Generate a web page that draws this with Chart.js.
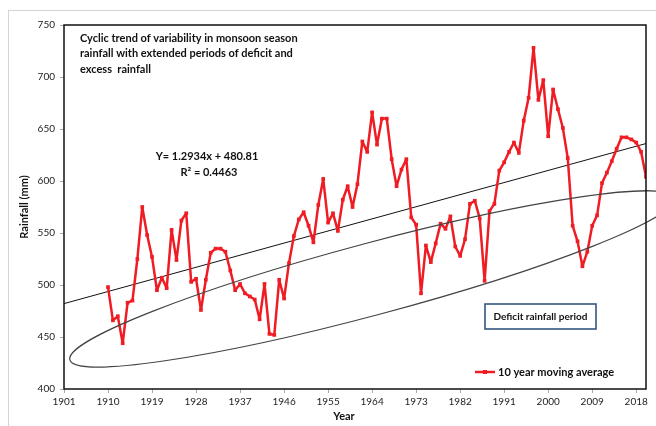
<!DOCTYPE html>
<html>
<head>
<meta charset="utf-8">
<script src="https://cdn.jsdelivr.net/npm/chart.js@4.4.1/dist/chart.umd.min.js"></script>
<style>
  html, body { margin: 0; padding: 0; background: #fff; }
  #wrap { width: 656px; height: 426px; }
</style>
</head>
<body>
<div id="wrap"><canvas id="chart" width="656" height="426"></canvas></div>
<script>
// Ten-year moving average of monsoon rainfall (mm), one value per year from 1910
const firstYear = 1910;
const rainfall = [
    498, 466, 470, 444, 483, 485, 525, 575, 548, 527,   // 1910-1919
    495, 507, 497, 553, 524, 562, 569, 503, 506, 476,   // 1920-1929
    505, 531, 535, 535, 532, 514, 495, 501, 492, 489,   // 1930-1939
    486, 467, 501, 453, 452, 505, 487, 521, 547, 563,   // 1940-1949
    570, 557, 541, 577, 602, 560, 569, 552, 582, 595,   // 1950-1959
    575, 597, 638, 628, 666, 635, 660, 660, 621, 595,   // 1960-1969
    611, 621, 565, 558, 492, 538, 522, 540, 559, 554,   // 1970-1979
    566, 537, 528, 544, 578, 581, 564, 504, 571, 578,   // 1980-1989
    610, 618, 628, 637, 627, 658, 680, 728, 678, 697,   // 1990-1999
    643, 688, 669, 651, 622, 557, 542, 518, 532, 557,   // 2000-2009
    567, 598, 608, 619, 631, 642, 642, 640, 637, 628,   // 2010-2019
    604                                                 // 2020
];

// Axis ranges and tick labels
const xMin = 1901;
const xMax = 2020;
const xTickYears = [1901, 1910, 1919, 1928, 1937, 1946, 1955, 1964, 1973, 1982, 1991, 2000, 2009, 2018];
const yMin = 400;
const yMax = 750;
const yStep = 50;

// Linear trend printed on the chart (x = years since 1900)
const trendSlope = 1.2934;
const trendIntercept = 480.81;
const trendText = ['Y= 1.2934x + 480.81', 'R² = 0.4463'];

// Ellipse marking the deficit period, in data units (year, mm)
const ellipseEnds = [[1902.2, 428], [2025.8, 583.6]];
const ellipseHalfWidth = 34.6;

const noteLines = [
    'Cyclic trend of variability in monsoon season',
    'rainfall with extended periods of deficit and',
    'excess  rainfall'
];
const boxLabel = 'Deficit rainfall period';
const seriesLabel = '10 year moving average';

const RED = '#f01c24';
const BOLD = 'bold 11px Lato, "Liberation Sans", sans-serif';

const movingAvg = rainfall.map((v, i) => ({ x: firstYear + i, y: v }));
const trendPoints = [xMin, xMax].map(yr => ({ x: yr, y: trendSlope * (yr - 1900) + trendIntercept }));

// Frame, ellipse, notes and legend
const decorations = {
    id: 'decorations',
    beforeDraw(chart) {
        const ctx = chart.ctx;
        ctx.save();
        ctx.strokeStyle = '#d4d4d4';
        ctx.lineWidth = 1;
        ctx.strokeRect(8.5, 10.5, 700, 500);
        ctx.restore();
    },
    afterDatasetsDraw(chart) {
        const ctx = chart.ctx;
        const xs = chart.scales.x, ys = chart.scales.y;
        const area = chart.chartArea;

        // ellipse
        const x1 = xs.getPixelForValue(ellipseEnds[0][0]), y1 = ys.getPixelForValue(ellipseEnds[0][1]);
        const x2 = xs.getPixelForValue(ellipseEnds[1][0]), y2 = ys.getPixelForValue(ellipseEnds[1][1]);
        const rx = Math.hypot(x2 - x1, y2 - y1) / 2;
        const ry = ys.getPixelForValue(yMin) - ys.getPixelForValue(yMin + ellipseHalfWidth);
        ctx.save();
        ctx.strokeStyle = '#444';
        ctx.lineWidth = 1.2;
        ctx.beginPath();
        ctx.ellipse((x1 + x2) / 2, (y1 + y2) / 2, rx, ry, Math.atan2(y2 - y1, x2 - x1), 0, Math.PI * 2);
        ctx.stroke();
        ctx.restore();

        // plot border
        ctx.save();
        ctx.strokeStyle = '#111';
        ctx.lineWidth = 1.5;
        ctx.strokeRect(area.left, area.top, area.right - area.left, area.bottom - area.top);
        ctx.restore();

        ctx.save();
        ctx.fillStyle = '#111';
        ctx.font = BOLD;
        ctx.textBaseline = 'middle';

        // note at top left
        ctx.textAlign = 'left';
        noteLines.forEach((t, i) => ctx.fillText(t, area.left + 16, area.top + 13 + i * 15.5));

        // trend equation
        ctx.textAlign = 'center';
        ctx.fillText(trendText[0], area.left + 143, area.top + 131);
        ctx.fillText(trendText[1], area.left + 145, area.top + 147);

        // deficit box
        const bx = area.left + 421, by = area.top + 279, bw = 111, bh = 25;
        ctx.strokeStyle = '#35567f';
        ctx.lineWidth = 1.6;
        ctx.strokeRect(bx, by, bw, bh);
        ctx.font = 'bold 10px Lato, "Liberation Sans", sans-serif';
        ctx.fillText(boxLabel, bx + bw / 2, by + bh / 2 + 0.5);

        // legend
        const lx = area.left + 411, ly = area.top + 347;
        ctx.strokeStyle = RED;
        ctx.lineWidth = 2.5;
        ctx.beginPath();
        ctx.moveTo(lx, ly);
        ctx.lineTo(lx + 20, ly);
        ctx.stroke();
        ctx.fillStyle = RED;
        ctx.fillRect(lx + 8, ly - 2, 4, 4);
        ctx.fillStyle = '#111';
        ctx.font = BOLD;
        ctx.textAlign = 'left';
        ctx.fillText(seriesLabel, lx + 23, ly);

        // x axis title
        ctx.textAlign = 'center';
        ctx.fillText('Year', 344, 416);
        ctx.restore();
    }
};

new Chart(document.getElementById('chart'), {
    type: 'line',
    data: {
        datasets: [
            {
                label: seriesLabel,
                data: movingAvg,
                borderColor: RED,
                backgroundColor: RED,
                borderWidth: 2.5,
                borderJoinStyle: 'round',
                pointStyle: 'rect',
                pointRadius: 2.6,
                pointBorderWidth: 0,
                tension: 0,
                order: 1
            },
            {
                label: 'Linear trend',
                data: trendPoints,
                borderColor: '#111',
                borderWidth: 1,
                pointRadius: 0,
                order: 2
            }
        ]
    },
    options: {
        responsive: false,
        animation: false,
        layout: { padding: { top: 25, right: 10, left: 0, bottom: 0 } },
        plugins: {
            legend: { display: false },
            tooltip: { enabled: false }
        },
        scales: {
            x: {
                type: 'linear',
                min: xMin,
                max: xMax,
                afterBuildTicks: (scale) => { scale.ticks = xTickYears.map(v => ({ value: v })); },
                afterFit: (scale) => { scale.height = 37; },
                border: { display: false },
                grid: { drawOnChartArea: false, tickLength: 4, color: '#aaa' },
                ticks: {
                    autoSkip: false,
                    maxRotation: 0,
                    padding: 3,
                    color: '#222',
                    font: { family: 'Lato, "Liberation Sans", sans-serif', size: 10 },
                    callback: (v) => String(v)
                }
            },
            y: {
                min: yMin,
                max: yMax,
                afterFit: (scale) => { scale.width = 64; },
                border: { display: false },
                grid: { drawOnChartArea: false, tickLength: 4, color: '#aaa' },
                ticks: {
                    stepSize: yStep,
                    padding: 5,
                    color: '#222',
                    font: { family: 'Lato, "Liberation Sans", sans-serif', size: 10 }
                },
                title: {
                    display: true,
                    text: 'Rainfall (mm)',
                    color: '#111',
                    font: { family: 'Lato, "Liberation Sans", sans-serif', size: 11, weight: 'bold' },
                    padding: { top: 18, bottom: 0 }
                }
            }
        }
    },
    plugins: [decorations]
});
</script>
</body>
</html>
